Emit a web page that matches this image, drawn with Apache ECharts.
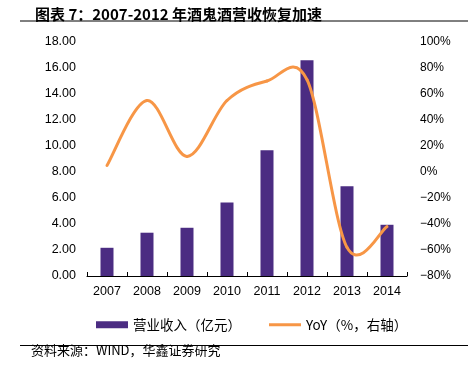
<!DOCTYPE html>
<html>
<head>
<meta charset="utf-8">
<script src="https://cdn.jsdelivr.net/npm/echarts@6/dist/echarts.min.js"></script>
<style>
html,body{margin:0;padding:0;background:#fff;}
#chart{width:468px;height:376px;}
</style>
</head>
<body>
<div id="chart"></div>
<script>
var years = ['2007', '2008', '2009', '2010', '2011', '2012', '2013', '2014'];
var revenue = [2.17, 3.33, 3.71, 5.66, 9.68, 16.59, 6.91, 3.94];   // 营业收入（亿元）
var yoy = [5, 55, 12, 55, 70, 71, -58, -42];                           // YoY %
var leftTicks = {min: 0, max: 18, step: 2};
var rightTicks = {min: -80, max: 100, step: 20};

var numFont = '"Liberation Sans", Arial, "Noto Sans CJK SC", sans-serif';
var cjkFont = '"Noto Sans CJK SC", "Liberation Sans", sans-serif';
var orange = '#F79646';

// excel 风格的平滑线 (catmull-rom)，echarts 自带 smooth 不会过冲
function renderYoy(params, api) {
  var i = params.dataIndex;
  if (i >= yoy.length - 1) return null;
  var p = function (k) {
    k = Math.max(0, Math.min(yoy.length - 1, k));
    return api.coord([k, yoy[k]]);
  };
  var p0 = p(i - 1), p1 = p(i), p2 = p(i + 1), p3 = p(i + 2);
  return {
    type: 'bezierCurve',
    z2: 10,
    shape: {
      x1: p1[0], y1: p1[1],
      x2: p2[0], y2: p2[1],
      cpx1: p1[0] + (p2[0] - p0[0]) / 6, cpy1: p1[1] + (p2[1] - p0[1]) / 6,
      cpx2: p2[0] - (p3[0] - p1[0]) / 6, cpy2: p2[1] - (p3[1] - p1[1]) / 6
    },
    style: {stroke: orange, lineWidth: 3, fill: null, lineCap: 'round'}
  };
}

var chart = echarts.init(document.getElementById('chart'));
var option = {
  animation: false,
  backgroundColor: '#fff',
  title: {
    text: '图表 7：2007-2012 年酒鬼酒营收恢复加速',
    left: 30,
    top: 2,
    textStyle: {fontFamily: cjkFont, fontSize: 15, fontWeight: 'bold', color: '#000'}
  },
  graphic: [
    // 标题下横线
    {type: 'line', shape: {x1: 20, y1: 21, x2: 468, y2: 21}, style: {stroke: '#000', lineWidth: 1}},
    // 底部横线
    {type: 'line', shape: {x1: 20, y1: 345.5, x2: 468, y2: 345.5}, style: {stroke: '#000', lineWidth: 1}},
    {type: 'text', left: 31, top: 344, style: {text: '资料来源：WIND，华鑫证券研究', font: '13px ' + cjkFont, fill: '#000'}}
  ],
  legend: {
    left: 91,
    top: 313,
    itemGap: 28,
    itemWidth: 32,
    itemHeight: 7,
    symbolKeepAspect: true,
    textStyle: {fontFamily: cjkFont, fontSize: 13.5, color: '#000'},
    data: [
      {name: '营业收入（亿元）', icon: 'rect'},
      {name: 'YoY（%，右轴）', icon: 'path://M0,0H32V3H0Z', itemStyle: {color: orange}}
    ]
  },
  grid: {left: 87, right: 61, top: 42, bottom: 100, containLabel: false},
  xAxis: {
    type: 'category',
    data: years,
    axisLine: {show: true, lineStyle: {color: '#000', width: 1}},
    axisTick: {show: true, inside: true, length: 4, lineStyle: {color: '#000'}},
    axisLabel: {color: '#000', fontFamily: numFont, fontSize: 12.5, margin: 9}
  },
  yAxis: [
    {
      type: 'value',
      min: leftTicks.min, max: leftTicks.max, interval: leftTicks.step,
      axisLine: {show: false},
      axisTick: {show: false},
      splitLine: {show: false},
      axisLabel: {
        color: '#000', fontFamily: numFont, fontSize: 12.5, margin: 11,
        formatter: function (v) { return v.toFixed(2); }
      }
    },
    {
      type: 'value',
      min: rightTicks.min, max: rightTicks.max, interval: rightTicks.step,
      axisLine: {show: false},
      axisTick: {show: false},
      splitLine: {show: false},
      axisLabel: {
        color: '#000', fontFamily: numFont, fontSize: 12, margin: 13,
        formatter: function (v) { return String(v).replace('-', '\u2212') + '%'; }
      }
    }
  ],
  series: [
    {
      name: '营业收入（亿元）',
      type: 'bar',
      barWidth: 13,
      z: 2,
      itemStyle: {color: '#4B2C82'},
      data: revenue
    },
    {
      name: 'YoY（%，右轴）',
      type: 'custom',
      yAxisIndex: 1,
      z: 5,
      clip: false,
      itemStyle: {color: orange},
      renderItem: renderYoy,
      encode: {x: 0, y: 1},
      data: years.map(function (y, i) { return [i, yoy[i]]; })
    }
  ]
};
chart.setOption(option);
</script>
</body>
</html>
